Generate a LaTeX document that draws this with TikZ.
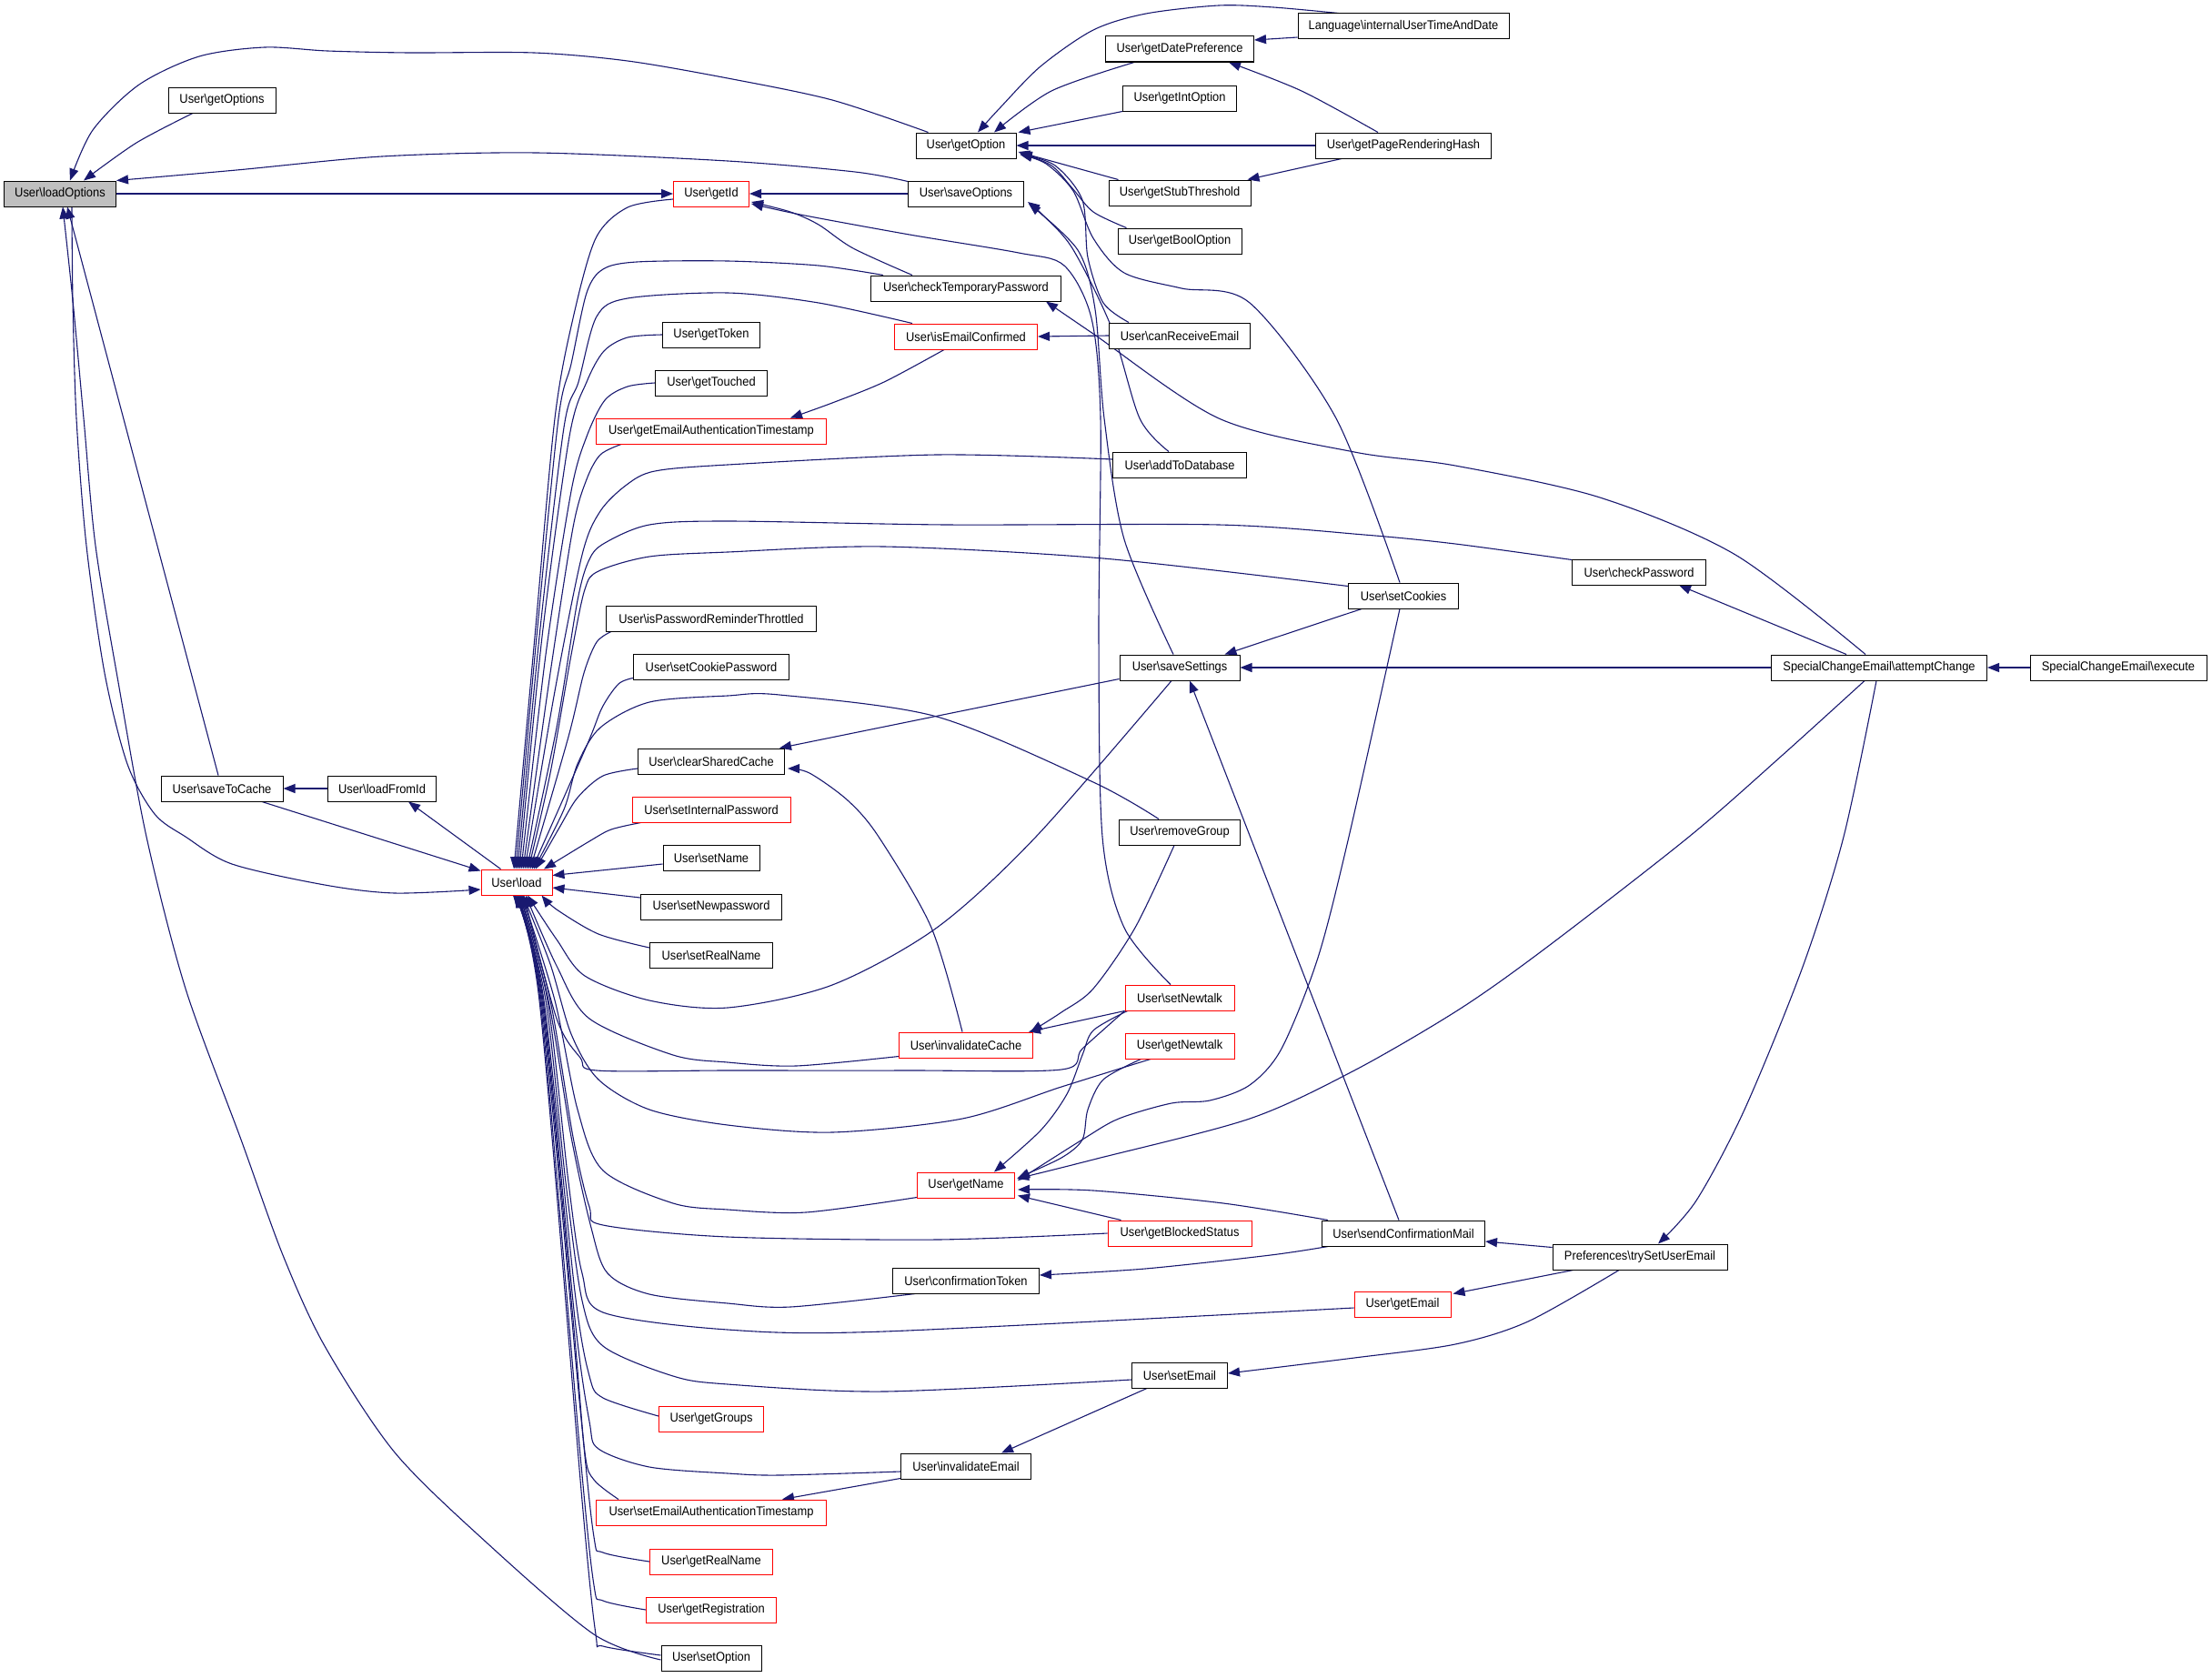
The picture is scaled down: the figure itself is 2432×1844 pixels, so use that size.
\documentclass[tikz,border=0pt]{standalone}
\usepackage{fontspec}
\setmainfont{Liberation Sans}[FakeStretch=0.92]
\usetikzlibrary{arrows.meta,calc}
\definecolor{edgec}{HTML}{191970}
\definecolor{curfill}{HTML}{BFBFBF}
\def\BS{\textbackslash}
\pgfdeclarelayer{bg}
\pgfsetlayers{bg,main}
\tikzset{
  fn/.style={draw=black, line width=1pt, fill=white, minimum height=28pt, inner xsep=1pt, inner ysep=0pt, font=\fontsize{14}{16}\selectfont, text=black},
  fnred/.style={fn, draw=red},
  fncur/.style={fn, fill=curfill},
  e/.style={draw=edgec, line width=1.1pt},
  a/.style={e, -{Triangle[length=13pt,width=10pt]}},
}
\begin{document}
\begin{tikzpicture}[x=1pt,y=-1pt]
\useasboundingbox (0,0) rectangle (2432,1844);
% rank 0-3
\node[fncur, minimum width=123pt] (lo) at (66,213) {User\BS loadOptions};
\node[fn, minimum width=118pt] (gos) at (244,110) {User\BS getOptions};
\node[fn, minimum width=134pt] (stc) at (244,867) {User\BS saveToCache};
\node[fn, minimum width=119pt] (lfi) at (420,867) {User\BS loadFromId};
\node[fnred, minimum width=78pt] (ld) at (568,970) {User\BS load};
% rank 4
\node[fnred, minimum width=83pt] (gid) at (782,213) {User\BS getId};
\node[fn, minimum width=107pt] (gtk) at (782,368) {User\BS getToken};
\node[fn, minimum width=123pt] (gtc) at (782,421) {User\BS getTouched};
\node[fnred, minimum width=253pt] (geat) at (782,474) {User\BS getEmailAuthenticationTimestamp};
\node[fn, minimum width=231pt] (iprt) at (782,680) {User\BS isPasswordReminderThrottled};
\node[fn, minimum width=171pt] (scp) at (782,733) {User\BS setCookiePassword};
\node[fn, minimum width=161pt] (csc) at (782,837) {User\BS clearSharedCache};
\node[fnred, minimum width=174pt] (sip) at (782,890) {User\BS setInternalPassword};
\node[fn, minimum width=106pt] (snm) at (782,943) {User\BS setName};
\node[fn, minimum width=155pt] (snp) at (782,997) {User\BS setNewpassword};
\node[fn, minimum width=135pt] (srn) at (782,1050) {User\BS setRealName};
\node[fnred, minimum width=115pt] (ggr) at (782,1560) {User\BS getGroups};
\node[fnred, minimum width=253pt] (seat) at (782,1663) {User\BS setEmailAuthenticationTimestamp};
\node[fnred, minimum width=135pt] (grn) at (782,1717) {User\BS getRealName};
\node[fnred, minimum width=143pt] (greg) at (782,1770) {User\BS getRegistration};
\node[fn, minimum width=110pt] (sop) at (782,1823) {User\BS setOption};
% rank 5
\node[fn, minimum width=110pt] (gop) at (1062,160) {User\BS getOption};
\node[fn, minimum width=127pt] (sao) at (1062,213) {User\BS saveOptions};
\node[fn, minimum width=209pt] (ctp) at (1062,317) {User\BS checkTemporaryPassword};
\node[fnred, minimum width=157pt] (iec) at (1062,370) {User\BS isEmailConfirmed};
\node[fnred, minimum width=147pt] (ivc) at (1062,1149) {User\BS invalidateCache};
\node[fnred, minimum width=107pt] (gnm) at (1062,1303) {User\BS getName};
\node[fn, minimum width=161pt] (ctk) at (1062,1408) {User\BS confirmationToken};
\node[fn, minimum width=143pt] (ive) at (1062,1612) {User\BS invalidateEmail};
% rank 6
\node[fn, minimum width=163pt] (gdp) at (1297,54) {User\BS getDatePreference};
\node[fn, minimum width=125pt] (gio) at (1297,108) {User\BS getIntOption};
\node[fn, minimum width=156pt] (gst) at (1297,212) {User\BS getStubThreshold};
\node[fn, minimum width=136pt] (gbo) at (1297,265) {User\BS getBoolOption};
\node[fn, minimum width=155pt] (cre) at (1297,369) {User\BS canReceiveEmail};
\node[fn, minimum width=147pt] (atd) at (1297,511) {User\BS addToDatabase};
\node[fn, minimum width=132pt] (ssv) at (1297,734) {User\BS saveSettings};
\node[fn, minimum width=133pt] (rmg) at (1297,915) {User\BS removeGroup};
\node[fnred, minimum width=120pt] (snt) at (1297,1097) {User\BS setNewtalk};
\node[fnred, minimum width=120pt] (gnt) at (1297,1150) {User\BS getNewtalk};
\node[fnred, minimum width=158pt] (gbs) at (1297,1356) {User\BS getBlockedStatus};
\node[fn, minimum width=105pt] (sem) at (1297,1512) {User\BS setEmail};
% rank 7+
\node[fn, minimum width=232pt] (lng) at (1543,29) {Language\BS internalUserTimeAndDate};
\node[fn, minimum width=193pt] (gprh) at (1543,160) {User\BS getPageRenderingHash};
\node[fn, minimum width=121pt] (sck) at (1543,655) {User\BS setCookies};
\node[fn, minimum width=179pt] (scm) at (1543,1356) {User\BS sendConfirmationMail};
\node[fnred, minimum width=106pt] (gem) at (1542,1434) {User\BS getEmail};
\node[fn, minimum width=147pt] (cpw) at (1802,629) {User\BS checkPassword};
\node[fn, minimum width=192pt] (tsue) at (1803,1382) {Preferences\BS trySetUserEmail};
\node[fn, minimum width=237pt] (atc) at (2066,734) {SpecialChangeEmail\BS attemptChange};
\node[fn, minimum width=194pt] (exe) at (2329,734) {SpecialChangeEmail\BS execute};

\begin{pgfonlayer}{bg}
% into loadOptions
\draw[a] plot[smooth] coordinates {($(gop.north west)+(14,0)$) (915,110) (800,86) (690,67) (587,58) (450,58) (360,56) (291,52) (219,62) (153,93) (102,143) ($(lo.north)+(11,0)$)};
\draw[a] plot[smooth] coordinates {($(gos.south)+(-32,0)$) (150,157) ($(lo.north)+(26,0)$)};
\draw[a] plot[smooth] coordinates {($(sao.north west)+(0,1)$) (940,189) (800,177) (590,168) (420,172) (260,187) (lo.north east)};
\draw[a] ($(stc.north)+(-4,0)$) -- ($(lo.south)+(8,0)$);
\draw[a] plot[smooth] coordinates {($(sop.west)+(0,2)$) (653,1797) (536,1697) (434,1597) (357,1480) (311,1380) (265,1253) (204,1087) (161,920) (130,750) (105,600) (92,460) (80,330) ($(lo.south)+(3,0)$)};
% getId
\draw[a] (lo.east) -- (gid.west);
\draw[a] (sao.west) -- (gid.east);
\draw[a] plot[smooth] coordinates {($(ctp.north west)+(46,0)$) (938,273) (900,247) (869,233) ($(gid.east)+(2,9)$)};
\draw[a] plot[smooth] coordinates {($(snt.north)+(-10,0)$) (1236,1020) (1212,920) (1208,700) (1210,460) (1200,350) (1170,292) (1120,278) (1000,258) (880,236) ($(gid.east)+(2,11)$)};
% load & co
\draw[a] plot[smooth] coordinates {($(lo.south)+(13,0)$) (80,330) (84,460) (95,600) (115,740) (140,840) (170,895) (204,920) (255,950) (357,973) (434,982) ($(ld.west)+(0,8)$)};
\draw[a] (lfi.west) -- (stc.east);
\draw[a] ($(ld.north west)+(22,0)$) -- ($(lfi.south)+(29,0)$);
\draw[a] ($(stc.south)+(44,0)$) -- ($(ld.north west)+(0,2)$);
% upper fan into load
\draw[a] plot[smooth] coordinates {($(gid.west)+(0,6)$) (690,228) (655,262) (630,350) (610,460) (588,700) ($(ld.north)+(-3,0)$)};
\draw[a] plot[smooth] coordinates {($(ctp.north west)+(14,0)$) (900,292) (800,287) (700,288) (663,296) (645,322) (628,400) (614,460) (590,700) ($(ld.north)+(-1,0)$)};
\draw[a] plot[smooth] coordinates {($(iec.north west)+(20,0)$) (900,333) (800,322) (690,328) (656,348) (636,420) (620,470) (593,700) ($(ld.north)+(1,0)$)};
\draw[a] plot[smooth] coordinates {(gtk.west) (690,371) (664,386) (645,420) (626,480) (596,700) ($(ld.north)+(3,0)$)};
\draw[a] plot[smooth] coordinates {(gtc.west) (690,425) (665,440) (645,480) (628,540) (600,720) ($(ld.north)+(5,0)$)};
\draw[a] plot[smooth] coordinates {($(geat.south west)+(28,0)$) (660,500) (645,527) (630,580) (605,740) ($(ld.north)+(7,0)$)};
\draw[a] plot[smooth] coordinates {($(atd.west)+(0,-6)$) (1030,500) (800,511) (720,518) (689,533) (660,562) (640,610) (610,760) ($(ld.north)+(9,0)$)};
\draw[a] plot[smooth] coordinates {($(cpw.north west)+(0,1)$) (1600,598) (1500,588) (1340,577) (1041,577) (800,573) (714,577) (665,597) (648,615) (635,660) (612,800) ($(ld.north)+(11,0)$)};
\draw[a] plot[smooth] coordinates {($(sck.north west)+(0,4)$) (1213,614) (972,601) (800,607) (714,612) (658,628) (643,648) (628,720) (605,850) ($(ld.north)+(13,0)$)};
\draw[a] plot[smooth] coordinates {($(iprt.south west)+(6,0)$) (656,706) (642,740) (625,810) ($(ld.north)+(15,0)$)};
\draw[a] plot[smooth] coordinates {($(scp.south west)+(0,-2)$) (680,752) (662,778) (645,820) ($(ld.north)+(17,0)$)};
\draw[a] plot[smooth] coordinates {($(rmg.north)+(-23,0)$) (1202,860) (1030,788) (857,764) (800,765) (714,772) (660,800) (635,840) (620,890) ($(ld.north)+(19,0)$)};
\draw[a] plot[smooth] coordinates {($(csc.west)+(0,8)$) (663,853) (635,877) (615,910) ($(ld.north)+(21,0)$)};
\draw[a] plot[smooth] coordinates {($(sip.south west)+(10,0)$) (672,912) (648,925) ($(ld.north)+(30,0)$)};
\draw[a] ($(snm.west)+(0,7)$) -- ($(ld.north east)+(0,7)$);
\draw[a] ($(snp.west)+(0,-10)$) -- ($(ld.east)+(0,6)$);
\draw[a] plot[smooth] coordinates {($(srn.west)+(0,-8)$) (658,1027) (612,1000) ($(ld.south east)+(-12,0)$)};
% lower fan into load
\draw[a] plot[smooth] coordinates {($(ssv.south)+(-9,0)$) (1139,920) (1030,1020) (915,1083) (800,1108) (714,1100) (643,1073) (612,1033) ($(ld.south)+(12,0)$)};
\draw[a] plot[smooth] coordinates {($(ivc.south west)+(0,-2)$) (875,1172) (800,1168) (740,1160) (648,1120) (612,1062) ($(ld.south)+(10,0)$)};
\draw[a] plot[smooth] coordinates {(snt.south west) (1190,1153) (1167,1176) (1000,1177) (800,1177) (656,1177) (638,1163) (612,1120) ($(ld.south)+(8,0)$)};
\draw[a] plot[smooth] coordinates {($(gnt.south)+(-32,0)$) (1167,1195) (1058,1230) (915,1245) (800,1237) (714,1220) (658,1187) (628,1137) (605,1060) ($(ld.south)+(7,0)$)};
\draw[a] plot[smooth] coordinates {($(gnm.south west)+(0,-1)$) (886,1333) (800,1330) (740,1323) (663,1287) (635,1220) (610,1100) ($(ld.south)+(6,0)$)};
\draw[a] plot[smooth] coordinates {(gbs.west) (1030,1363) (800,1360) (663,1347) (648,1327) (630,1250) (605,1100) ($(ld.south)+(5,0)$)};
\draw[a] plot[smooth] coordinates {($(ctk.south west)+(25,0)$) (869,1437) (800,1433) (714,1423) (668,1400) (650,1350) (628,1250) (603,1100) ($(ld.south)+(4,0)$)};
\draw[a] plot[smooth] coordinates {($(gem.west)+(0,4)$) (972,1464) (800,1462) (663,1443) (640,1400) (625,1300) (602,1100) ($(ld.south)+(3,0)$)};
\draw[a] plot[smooth] coordinates {($(sem.west)+(0,5)$) (972,1530) (800,1522) (740,1513) (663,1480) (640,1430) (622,1300) (600,1100) ($(ld.south)+(2,0)$)};
\draw[a] plot[smooth] coordinates {($(ggr.west)+(0,-3)$) (663,1537) (648,1513) (632,1420) (598,1100) ($(ld.south)+(1,0)$)};
\draw[a] plot[smooth] coordinates {($(ive.west)+(0,6)$) (857,1622) (800,1620) (714,1613) (658,1593) (648,1563) (632,1450) (597,1100) (ld.south)};
\draw[a] plot[smooth] coordinates {($(seat.north west)+(25,0)$) (653,1627) (643,1597) (630,1450) (596,1100) ($(ld.south)+(-1,0)$)};
\draw[a] plot[smooth] coordinates {(grn.west) (663,1707) (653,1690) (638,1550) (595,1100) ($(ld.south)+(-2,0)$)};
\draw[a] plot[smooth] coordinates {(greg.west) (663,1760) (653,1743) (638,1600) (594,1100) ($(ld.south)+(-3,0)$)};
\draw[a] plot[smooth] coordinates {($(sop.west)+(0,-3)$) (663,1810) (655,1797) (640,1650) (593,1100) ($(ld.south)+(-4,0)$)};
% getOption group
\draw[a] plot[smooth] coordinates {($(gdp.south west)+(32,0)$) (1156,100) ($(gop.north)+(31,0)$)};
\draw[a] plot[smooth] coordinates {($(lng.north west)+(45,0)$) (1400,8) (1340,6) (1260,15) (1202,33) (1144,73) (1100,118) ($(gop.north)+(13,0)$)};
\draw[a] ($(lng.west)+(0,12)$) -- ($(gdp.east)+(0,-10)$);
\draw[a] (gio.south west) -- ($(gop.north east)+(2,0)$);
\draw[a] (gprh.west) -- (gop.east);
\draw[a] plot[smooth] coordinates {($(gprh.north)+(-28,0)$) (1431,100) ($(gdp.south)+(54,0)$)};
\draw[a] ($(gst.north west)+(11,0)$) -- ($(gop.east)+(2,7)$);
\draw[a] ($(gprh.south west)+(29,0)$) -- ($(gst.north east)+(-4,0)$);
\draw[a] plot[smooth] coordinates {($(gbo.north west)+(10,0)$) (1202,233) (1179,207) (1156,182) ($(gop.east)+(4,8)$)};
\draw[a] plot[smooth] coordinates {($(cre.north west)+(22,0)$) (1213,333) (1196,283) (1190,220) (1160,182) ($(gop.east)+(4,9)$)};
\draw[a] plot[smooth] coordinates {($(sck.north)+(-4,0)$) (1469,460) (1374,333) (1299,317) (1236,300) (1202,262) (1180,210) (1150,180) ($(gop.east)+(4,10)$)};
% saveOptions
\draw[a] plot[smooth] coordinates {($(atd.north)+(-12,0)$) (1253,460) (1222,360) (1179,273) (1145,235) ($(sao.east)+(4,9)$)};
\draw[a] plot[smooth] coordinates {($(ssv.north)+(-7,0)$) (1236,593) (1214,460) (1204,340) (1185,275) ($(sao.east)+(5,11)$)};
% others
\draw[a] plot[smooth] coordinates {($(atc.north)+(-15,0)$) (1908,610) (1759,547) (1600,512) (1489,497) (1340,460) (1202,367) ($(ctp.south east)+(-17,0)$)};
\draw[a] (cre.west) -- (iec.east);
\draw[a] plot[smooth] coordinates {($(iec.south)+(-24,0)$) (972,420) (915,443) ($(geat.north east)+(-40,0)$)};
\draw[a] ($(ssv.south west)+(0,-2)$) -- ($(csc.north east)+(-6,0)$);
\draw[a] plot[smooth] coordinates {($(ivc.north)+(-4,0)$) (1024,1020) (966,920) (932,880) (890,850) ($(csc.east)+(3,8)$)};
\draw[a] plot[smooth] coordinates {($(rmg.south)+(-6,0)$) (1248,1020) (1202,1087) (1167,1113) ($(ivc.north east)+(-3,0)$)};
\draw[a] (snt.south west) -- ($(ivc.north east)+(-5,0)$);
\draw[a] (atc.west) -- (ssv.east);
\draw[a] ($(sck.south west)+(15,0)$) -- ($(ssv.north east)+(-17,0)$);
\draw[a] ($(atc.north)+(-36,0)$) -- ($(cpw.south)+(44,0)$);
\draw[a] (exe.west) -- (atc.east);
\draw[a] plot[smooth] coordinates {($(atc.south)+(-16,0)$) (1960,830) (1857,920) (1700,1042) (1604,1110) (1489,1177) (1374,1230) (1202,1275) ($(gnm.east)+(2,-7)$)};
\draw[a] plot[smooth] coordinates {($(sck.south)+(-4,0)$) (1483,920) (1449,1053) (1409,1153) (1374,1193) (1330,1210) (1288,1213) (1230,1230) (1190,1253) ($(gnm.east)+(3,-5)$)};
\draw[a] plot[smooth] coordinates {($(snt.south west)+(3,0)$) (1202,1133) (1190,1160) (1173,1203) (1144,1243) ($(gnm.north)+(31,0)$)};
\draw[a] plot[smooth] coordinates {($(gnt.south west)+(18,0)$) (1213,1187) (1196,1220) (1190,1253) (1167,1273) ($(gnm.east)+(3,-8)$)};
\draw[a] ($(gbs.north west)+(15,0)$) -- ($(gnm.south east)+(3,-3)$);
\draw[a] plot[smooth] coordinates {($(scm.north west)+(7,0)$) (1345,1323) (1202,1309) ($(gnm.east)+(3,5)$)};
\draw[a] plot[smooth] coordinates {($(scm.south west)+(7,0)$) (1397,1380) (1259,1395) ($(ctk.east)+(0,-6)$)};
\draw[a] ($(scm.north)+(-5,0)$) -- ($(ssv.south)+(11,0)$);
\draw[a] ($(tsue.north west)+(0,4)$) -- ($(scm.east)+(0,9)$);
\draw[a] plot[smooth] coordinates {($(atc.south)+(-3,0)$) (2027,920) (1982,1063) (1918,1220) (1865,1320) ($(tsue.north)+(20,0)$)};
\draw[a] ($(tsue.south west)+(23,0)$) -- ($(gem.north east)+(2,3)$);
\draw[a] plot[smooth] coordinates {($(tsue.south)+(-23,0)$) (1680,1453) (1600,1478) (1489,1493) ($(sem.east)+(0,-2)$)};
\draw[a] ($(sem.south west)+(17,0)$) -- ($(ive.north)+(39,0)$);
\draw[a] ($(ive.south west)+(0,-1)$) -- ($(seat.north east)+(-49,0)$);
\end{pgfonlayer}
\end{tikzpicture}
\end{document}
